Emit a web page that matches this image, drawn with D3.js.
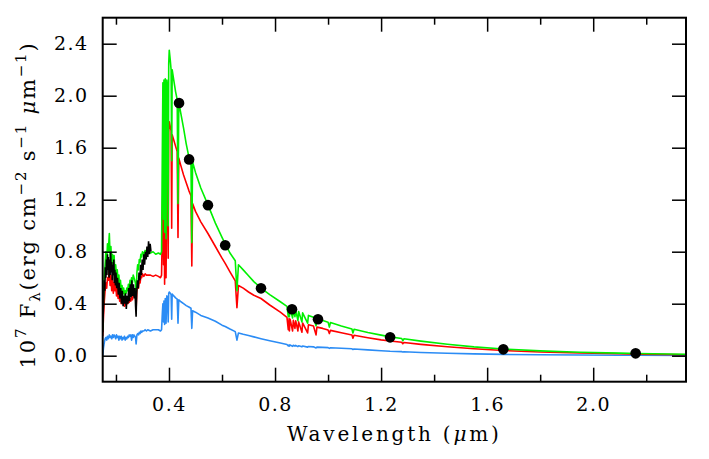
<!DOCTYPE html>
<html>
<head>
<meta charset="utf-8">
<script src="https://cdn.jsdelivr.net/npm/d3@7"></script>
<style>
  html, body { margin: 0; padding: 0; background: #fff; }
  svg { display: block; font-family: "DejaVu Serif", serif; }
  .axis text { font-family: "DejaVu Serif", serif; font-size: 19px; fill: #000; letter-spacing: 1.5px; }
  .axis line { stroke: #000; stroke-width: 1.5; }
  .axis path { display: none; }
</style>
</head>
<body>
<div id="chart"></div>
<script>
// model wavelength grid (micron) shared by the three model spectra
const modelWave = [
  0.150, 0.153, 0.156, 0.159, 0.162, 0.165, 0.168, 0.171, 0.175, 0.178,
  0.181, 0.184, 0.187, 0.190, 0.193, 0.196, 0.199, 0.202, 0.205, 0.208,
  0.211, 0.214, 0.217, 0.220, 0.223, 0.226, 0.229, 0.232, 0.235, 0.238,
  0.241, 0.244, 0.247, 0.250, 0.253, 0.256, 0.259, 0.262, 0.265, 0.268,
  0.271, 0.274, 0.276, 0.279, 0.282, 0.285, 0.288, 0.291, 0.294, 0.297,
  0.300, 0.305, 0.310, 0.315, 0.320, 0.330, 0.340, 0.350, 0.360, 0.368,
  0.372, 0.375, 0.377, 0.3795, 0.381, 0.3835, 0.386, 0.3889, 0.392, 0.395,
  0.397, 0.399, 0.401, 0.405, 0.408, 0.4102, 0.412, 0.418, 0.425, 0.431,
  0.434, 0.437, 0.445, 0.455, 0.465, 0.475, 0.483, 0.4861, 0.489, 0.500,
  0.520, 0.547, 0.575, 0.600, 0.612, 0.630, 0.650, 0.6563, 0.662, 0.680,
  0.700, 0.720, 0.747, 0.780, 0.820, 0.845, 0.850, 0.853, 0.8542, 0.857,
  0.8662, 0.869, 0.875, 0.878, 0.8863, 0.889, 0.9015, 0.904, 0.9229, 0.926,
  0.945, 0.9546, 0.958, 0.980, 1.000, 1.0049, 1.009, 1.050, 1.090, 1.0938,
  1.098, 1.150, 1.200, 1.234, 1.278, 1.2818, 1.286, 1.350, 1.450, 1.550,
  1.661, 1.800, 1.950, 2.100, 2.166, 2.350
];

const greenFlux = [
  0.20, 0.45, 0.62, 0.70, 0.80, 0.72, 0.86, 0.80, 0.94, 0.76,
  0.84, 0.68, 0.78, 0.70, 0.77, 0.62, 0.70, 0.60, 0.66, 0.56,
  0.62, 0.52, 0.58, 0.50, 0.54, 0.48, 0.52, 0.46, 0.50, 0.48,
  0.52, 0.50, 0.55, 0.52, 0.58, 0.54, 0.60, 0.56, 0.62, 0.60,
  0.58, 0.55, 0.44, 0.64, 0.70, 0.66, 0.74, 0.72, 0.78, 0.76,
  0.80, 0.78, 0.81, 0.79, 0.80, 0.79, 0.80, 0.78, 0.79, 0.78,
  0.80, 1.60, 2.10, 1.05, 2.12, 0.95, 2.13, 0.90, 2.12, 2.05,
  1.00, 2.25, 2.35, 2.27, 2.20, 1.50, 2.20, 2.12, 2.03, 1.97,
  1.17, 1.95, 1.86, 1.75, 1.63, 1.53, 1.47, 0.87, 1.49, 1.41,
  1.29, 1.16, 1.02, 0.91, 0.86, 0.79, 0.73, 0.50, 0.70, 0.66,
  0.615, 0.57, 0.52, 0.47, 0.415, 0.38, 0.30, 0.37, 0.30, 0.365,
  0.29, 0.355, 0.30, 0.35, 0.27, 0.34, 0.26, 0.33, 0.25, 0.31,
  0.295, 0.23, 0.285, 0.27, 0.258, 0.22, 0.255, 0.228, 0.205, 0.175,
  0.203, 0.178, 0.158, 0.145, 0.132, 0.115, 0.130, 0.112, 0.088, 0.068,
  0.051, 0.037, 0.027, 0.020, 0.017, 0.011
];

const redFlux = [
  0.15, 0.30, 0.42, 0.50, 0.56, 0.52, 0.60, 0.58, 0.66, 0.54,
  0.62, 0.50, 0.60, 0.48, 0.56, 0.50, 0.56, 0.46, 0.52, 0.44,
  0.50, 0.42, 0.46, 0.40, 0.44, 0.40, 0.43, 0.38, 0.41, 0.39,
  0.41, 0.40, 0.42, 0.41, 0.44, 0.42, 0.45, 0.43, 0.47, 0.46,
  0.47, 0.45, 0.36, 0.50, 0.55, 0.52, 0.58, 0.56, 0.61, 0.60,
  0.63, 0.61, 0.63, 0.62, 0.62, 0.62, 0.61, 0.62, 0.61, 0.60,
  0.62, 1.00, 1.30, 0.70, 1.28, 0.55, 1.30, 0.60, 1.38, 1.40,
  0.75, 1.72, 1.80, 1.76, 1.73, 0.98, 1.70, 1.66, 1.61, 1.57,
  0.91, 1.52, 1.46, 1.39, 1.33, 1.27, 1.23, 0.69, 1.17, 1.11,
  1.03, 0.94, 0.84, 0.75, 0.71, 0.645, 0.575, 0.37, 0.54, 0.52,
  0.49, 0.465, 0.44, 0.39, 0.335, 0.295, 0.20, 0.285, 0.19, 0.28,
  0.19, 0.272, 0.21, 0.268, 0.19, 0.26, 0.18, 0.252, 0.175, 0.238,
  0.228, 0.16, 0.22, 0.21, 0.198, 0.17, 0.195, 0.176, 0.159, 0.135,
  0.157, 0.138, 0.122, 0.113, 0.103, 0.092, 0.101, 0.087, 0.069, 0.054,
  0.040, 0.029, 0.021, 0.015, 0.012, 0.007
];

const blueFlux = [
  0.00, 0.06, 0.10, 0.13, 0.14, 0.12, 0.15, 0.13, 0.16, 0.14,
  0.15, 0.13, 0.16, 0.14, 0.16, 0.15, 0.13, 0.16, 0.14, 0.15,
  0.12, 0.15, 0.13, 0.15, 0.12, 0.14, 0.13, 0.15, 0.12, 0.14,
  0.13, 0.15, 0.14, 0.16, 0.15, 0.16, 0.12, 0.16, 0.14, 0.16,
  0.15, 0.14, 0.09, 0.16, 0.17, 0.16, 0.18, 0.17, 0.19, 0.18,
  0.19, 0.19, 0.20, 0.19, 0.20, 0.19, 0.20, 0.20, 0.20, 0.19,
  0.20, 0.33, 0.40, 0.26, 0.42, 0.24, 0.44, 0.25, 0.46, 0.45,
  0.26, 0.48, 0.49, 0.48, 0.47, 0.28, 0.475, 0.46, 0.445, 0.435,
  0.25, 0.43, 0.415, 0.40, 0.385, 0.375, 0.365, 0.21, 0.345, 0.335,
  0.31, 0.29, 0.265, 0.235, 0.225, 0.205, 0.185, 0.12, 0.175, 0.165,
  0.155, 0.145, 0.131, 0.115, 0.097, 0.086, 0.075, 0.083, 0.074, 0.082,
  0.072, 0.080, 0.074, 0.079, 0.070, 0.077, 0.068, 0.075, 0.066, 0.071,
  0.068, 0.060, 0.066, 0.064, 0.062, 0.056, 0.061, 0.057, 0.053, 0.048,
  0.052, 0.045, 0.038, 0.034, 0.031, 0.028, 0.030, 0.025, 0.019, 0.014,
  0.010, 0.007, 0.005, 0.004, 0.003, 0.002
];

// observed UV spectrum (black)
const obsWave = [
  0.150, 0.152, 0.154, 0.156, 0.158, 0.160, 0.162, 0.164, 0.166, 0.168,
  0.170, 0.172, 0.174, 0.176, 0.178, 0.180, 0.182, 0.184, 0.186, 0.188,
  0.190, 0.192, 0.194, 0.196, 0.198, 0.200, 0.203, 0.206, 0.209, 0.212,
  0.215, 0.218, 0.221, 0.224, 0.227, 0.230, 0.233, 0.236, 0.239, 0.242,
  0.245, 0.248, 0.251, 0.254, 0.257, 0.260, 0.263, 0.266, 0.269, 0.272,
  0.274, 0.276, 0.278, 0.281, 0.284, 0.287, 0.290, 0.293, 0.296, 0.299,
  0.302, 0.305, 0.308, 0.311, 0.314, 0.317, 0.320, 0.323, 0.326, 0.329,
  0.332
];
const obsFlux = [
  0.18, 0.32, 0.45, 0.58, 0.50, 0.68, 0.60, 0.74, 0.62, 0.78,
  0.66, 0.76, 0.60, 0.74, 0.62, 0.80, 0.64, 0.72, 0.58, 0.70,
  0.62, 0.74, 0.56, 0.66, 0.54, 0.64, 0.52, 0.60, 0.47, 0.56,
  0.44, 0.52, 0.40, 0.50, 0.38, 0.46, 0.40, 0.48, 0.36, 0.46,
  0.40, 0.52, 0.42, 0.55, 0.45, 0.58, 0.46, 0.55, 0.44, 0.52,
  0.38, 0.30, 0.48, 0.58, 0.52, 0.64, 0.58, 0.70, 0.62, 0.74,
  0.66, 0.78, 0.70, 0.80, 0.74, 0.84, 0.76, 0.88, 0.78, 0.86,
  0.80
];

// broad-band photometry (black dots)
const photWave = [0.438, 0.476, 0.547, 0.612, 0.747, 0.864, 0.962, 1.234, 1.661, 2.160];
const photFlux = [1.944, 1.51, 1.158, 0.85, 0.518, 0.357, 0.28, 0.141, 0.049, 0.018];

const xMajor = [0.4, 0.8, 1.2, 1.6, 2.0];
const xMinor = [0.2, 0.6, 1.0, 1.4, 1.8, 2.2];
const yMajor = [0.0, 0.4, 0.8, 1.2, 1.6, 2.0, 2.4];

const W = 709, H = 459;
const m = { top: 17.7, right: 23, bottom: 77.3, left: 102.7 };

const svg = d3.select('#chart').append('svg')
  .attr('width', W).attr('height', H)
  .attr('viewBox', `0 0 ${W} ${H}`);

const x = d3.scaleLinear().domain([0.15, 2.35]).range([m.left, W - m.right]);
const y = d3.scaleLinear().domain([-0.2, 2.6]).range([H - m.bottom, m.top]);

svg.append('clipPath').attr('id', 'plot')
  .append('rect')
  .attr('x', m.left).attr('y', m.top)
  .attr('width', W - m.left - m.right).attr('height', H - m.top - m.bottom);

const plot = svg.append('g').attr('clip-path', 'url(#plot)');

const line = d3.line().x(d => x(d[0])).y(d => y(d[1]));

const models = [
  { flux: blueFlux,  color: '#2b8cf5' },
  { flux: redFlux,   color: '#ff0000' },
  { flux: greenFlux, color: '#00f000' },
];

models.forEach(s => {
  plot.append('path')
    .datum(modelWave.map((w, i) => [w, s.flux[i]]))
    .attr('fill', 'none')
    .attr('stroke', s.color)
    .attr('stroke-width', 1.6)
    .attr('stroke-linejoin', 'round')
    .attr('d', line);
});

plot.append('path')
  .datum(obsWave.map((w, i) => [w, obsFlux[i]]))
  .attr('fill', 'none')
  .attr('stroke', '#000')
  .attr('stroke-width', 1.6)
  .attr('d', line);

plot.selectAll('circle')
  .data(photWave.map((w, i) => [w, photFlux[i]]))
  .join('circle')
  .attr('cx', d => x(d[0]))
  .attr('cy', d => y(d[1]))
  .attr('r', 5.3)
  .attr('fill', '#000');

// axes: ticks point inward on all four sides
const bottom = H - m.bottom, right = W - m.right;

svg.append('g').attr('class', 'axis')
  .attr('transform', `translate(0,${bottom})`)
  .call(d3.axisBottom(x).tickValues(xMajor).tickSize(-14).tickPadding(16).tickFormat(d3.format('.1f')));
svg.append('g').attr('class', 'axis')
  .attr('transform', `translate(0,${bottom})`)
  .call(d3.axisBottom(x).tickValues(xMinor).tickSize(-7).tickFormat(''));
svg.append('g').attr('class', 'axis')
  .attr('transform', `translate(0,${m.top})`)
  .call(d3.axisTop(x).tickValues(xMajor).tickSize(-14).tickFormat(''));
svg.append('g').attr('class', 'axis')
  .attr('transform', `translate(0,${m.top})`)
  .call(d3.axisTop(x).tickValues(xMinor).tickSize(-7).tickFormat(''));
svg.append('g').attr('class', 'axis')
  .attr('transform', `translate(${m.left},0)`)
  .call(d3.axisLeft(y).tickValues(yMajor).tickSize(-14).tickPadding(14).tickFormat(d3.format('.1f')));
svg.append('g').attr('class', 'axis')
  .attr('transform', `translate(${right},0)`)
  .call(d3.axisRight(y).tickValues(yMajor).tickSize(-14).tickFormat(''));

svg.append('rect')
  .attr('x', m.left).attr('y', m.top)
  .attr('width', right - m.left).attr('height', bottom - m.top)
  .attr('fill', 'none').attr('stroke', '#000').attr('stroke-width', 2);

// axis titles
const xt = svg.append('text')
  .attr('x', (m.left + right) / 2).attr('y', 441)
  .attr('text-anchor', 'middle')
  .attr('font-size', 20)
  .attr('letter-spacing', '2.8px');
xt.append('tspan').text('Wavelength (');
xt.append('tspan').attr('font-style', 'italic').text('μ');
xt.append('tspan').text('m)');

const yt = svg.append('text')
  .attr('transform', 'translate(35,205) rotate(-90)')
  .attr('text-anchor', 'middle')
  .attr('font-size', 21)
  .attr('letter-spacing', '1.8px');
yt.append('tspan').text('10');
yt.append('tspan').attr('dy', -9).attr('font-size', 15).text('7');
yt.append('tspan').attr('dy', 9).text(' F');
yt.append('tspan').attr('dy', 5).attr('font-size', 15).text('λ');
yt.append('tspan').attr('dy', -5).text('(erg cm');
yt.append('tspan').attr('dy', -9).attr('font-size', 15).text('−2');
yt.append('tspan').attr('dy', 9).text(' s');
yt.append('tspan').attr('dy', -9).attr('font-size', 15).text('−1');
yt.append('tspan').attr('dy', 9).text(' ');
yt.append('tspan').attr('font-style', 'italic').text('μ');
yt.append('tspan').text('m');
yt.append('tspan').attr('dy', -9).attr('font-size', 15).text('−1');
yt.append('tspan').attr('dy', 9).text(')');
</script>
</body>
</html>
